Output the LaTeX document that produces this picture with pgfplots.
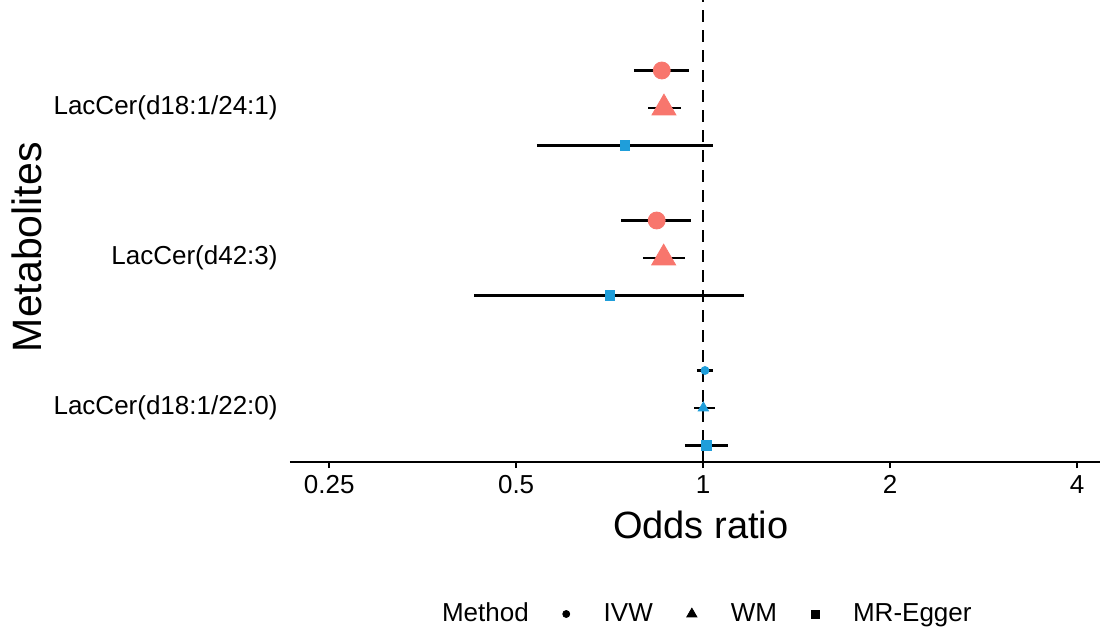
\documentclass[border=0pt]{standalone}
\usepackage{pgfplots}
\pgfplotsset{compat=1.18}
\usepackage{pgfplotstable}
\usepackage{fontspec}
\setmainfont{Liberation Sans}
\definecolor{sigred}{HTML}{F8766D}
\definecolor{nsblue}{RGB}{31,158,218}

% confidence intervals, one segment per row
\pgfplotstableread{
x y
0.774 3.25
0.949 3.25
nan nan
0.816 3.00
0.922 3.00
nan nan
0.540 2.75
1.038 2.75
nan nan
0.738 2.25
0.955 2.25
nan nan
0.800 2.00
0.935 2.00
nan nan
0.428 1.75
1.165 1.75
nan nan
0.977 1.25
1.037 1.25
nan nan
0.968 1.00
1.045 1.00
nan nan
0.935 0.75
1.096 0.75
}\cidata

\begin{document}
\begin{tikzpicture}
\begin{axis}[
  name=ax,
  scale only axis, width=405pt, height=231pt,
  xmode=log, log basis x=2,
  xmin=0.2162, xmax=4.356, ymin=0.64, ymax=3.72,
  axis x line*=bottom, axis y line*=left,
  x axis line style={-, line width=1.2pt},
  y axis line style={draw=none},
  xtick={0.25,0.5,1,2,4}, xticklabels={0.25,0.5,1,2,4},
  xtick pos=left, xtick align=outside, major tick length=3pt,
  xtick style={line width=1.2pt, black},
  ytick={1,2,3},
  yticklabels={LacCer(d18:1/22:0),LacCer(d42:3),LacCer(d18:1/24:1)},
  ytick style={draw=none},
  tick label style={font=\fontsize{13}{15}\selectfont, black},
  xticklabel style={inner sep=0pt, anchor=north, yshift=-3.5pt},
  yticklabel style={inner sep=0pt, anchor=east, xshift=-6pt},
  xlabel={Odds ratio}, ylabel={Metabolites},
  xlabel style={font=\fontsize{19}{22}\selectfont, at={(rel axis cs:0.507,-0.1645)}, anchor=base, inner sep=0pt},
  ylabel style={font=\fontsize{20.5}{24}\selectfont, at={(rel axis cs:-0.3062,0.465)}, anchor=base, inner sep=0pt},
  legend columns=-1,
  legend style={at={(rel axis cs:0.1457,-0.329)}, anchor=west, draw=none, fill=none,
    inner sep=0pt, outer sep=0pt, font=\fontsize{13}{15}\selectfont,
    /tikz/column sep=17pt, nodes={inner sep=0pt}},
  unbounded coords=jump,
]
\addlegendimage{empty legend}
\addlegendimage{only marks, mark=*, black, mark size=1.75pt}
\addlegendimage{only marks, mark=triangle*, black, mark size=2.9pt}
\addlegendimage{only marks, mark=square*, black, mark size=2pt}
\legend{Method, IVW, WM, MR-Egger}

% null line
\addplot[black, line width=1.3pt, dash pattern=on 6pt off 4pt] coordinates {(1,0.64) (1,3.72)};

% point estimates
\addplot[only marks, mark=*, sigred, mark size=4.25pt] coordinates {(0.858,3.25) (0.842,2.25)};
\addplot[only marks, mark=triangle*, sigred, mark size=6.9pt] coordinates {(0.865,3.00) (0.864,2.00)};
\addplot[only marks, mark=square*, nsblue, mark size=2.3pt] coordinates {(0.749,2.75) (0.707,1.75)};
\addplot[only marks, mark=*, nsblue, mark size=2pt] coordinates {(1.007,1.25)};
\addplot[only marks, mark=triangle*, nsblue, mark size=3pt] coordinates {(1.001,1.00)};
\addplot[only marks, mark=square*, nsblue, mark size=2.5pt] coordinates {(1.014,0.75)};

% intervals
\addplot[black, line width=1.3pt] table[x=x, y=y] {\cidata};
\end{axis}
\pgfresetboundingbox
\path[use as bounding box] ([xshift=-145pt, yshift=-82.5pt]ax.south west) rectangle (ax.north east);
\end{tikzpicture}
\end{document}
